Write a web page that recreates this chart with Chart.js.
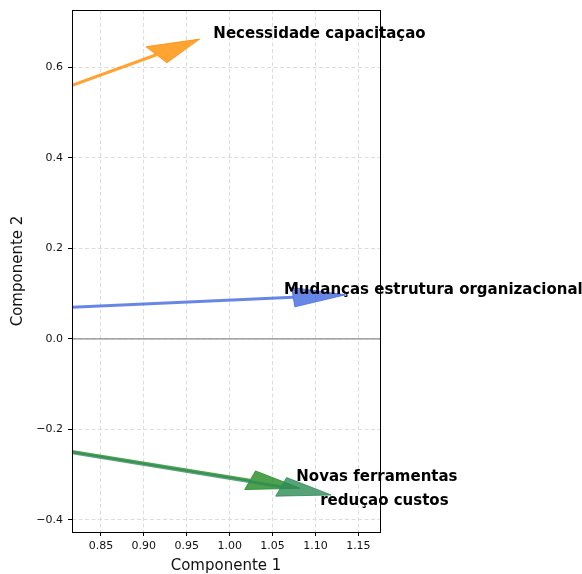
<!DOCTYPE html>
<html><head><meta charset="utf-8">
<script src="https://cdn.jsdelivr.net/npm/chart.js@4/dist/chart.umd.min.js"></script>
<style>html,body{margin:0;padding:0;background:#fff}#wrap{width:582px;height:574px}</style>
</head><body><div id="wrap"><canvas id="c" width="582" height="574"></canvas></div>
<script>
// Loadings (PC1, PC2) of each variable
const variables = ['Necessidade capacitaçao', 'Mudanças estrutura organizacional', 'Novas ferramentas', 'reduçao custos'];
const loadingPC1 = [0.9147, 1.0741, 1.0238, 1.0600];
const loadingPC2 = [0.6272, 0.0920, -0.3122, -0.3268];
// Label anchor positions (data units)
const labelPC1 = [1.1047, 1.2373, 1.1716, 1.1803];
const labelPC2 = [0.673, 0.108, -0.305, -0.358];
const arrowColors = ['rgba(255,140,0,0.8)', 'rgba(65,105,225,0.8)', 'rgba(34,139,34,0.8)', 'rgba(46,139,87,0.8)'];
// Axes
const xTicks = [0.85, 0.90, 0.95, 1.00, 1.05, 1.10, 1.15];
const yTicks = [-0.4, -0.2, 0.0, 0.2, 0.4, 0.6];
const xLimits = [0.8163, 1.1752];
const yLimits = [-0.4265, 0.726];
const xTitle = 'Componente 1';
const yTitle = 'Componente 2';
// Arrow head size (data units, like matplotlib)
const headWidth = 0.043, headLength = 0.061;

function arrowHead(lx, ly) {
  const len = Math.hypot(lx, ly);
  const dx = lx / len, dy = ly / len;
  const px = -dy, py = dx;
  const tip = {x: lx + dx * headLength, y: ly + dy * headLength};
  const c1 = {x: lx + px * headWidth / 2, y: ly + py * headWidth / 2};
  const c2 = {x: lx - px * headWidth / 2, y: ly - py * headWidth / 2};
  return [c1, tip, c2, c1];
}

const datasets = [];
datasets.push({
  data: [{x: xLimits[0], y: 0}, {x: xLimits[1], y: 0}],
  borderColor: 'rgba(128,128,128,0.65)', borderWidth: 1.6, showLine: true,
  pointRadius: 0, fill: false, order: 100
});
variables.forEach((v, i) => {
  datasets.push({
    data: [{x: 0, y: 0}, {x: loadingPC1[i], y: loadingPC2[i]}],
    borderColor: arrowColors[i], borderWidth: 3, showLine: true,
    pointRadius: 0, fill: false, order: 50 - i * 2
  });
  datasets.push({
    data: arrowHead(loadingPC1[i], loadingPC2[i]),
    borderColor: arrowColors[i], backgroundColor: arrowColors[i], borderWidth: 1,
    showLine: true, pointRadius: 0, fill: 'shape', tension: 0, order: 49 - i * 2
  });
});

const fmtY = v => (v < -1e-9 ? '\u2212' : '') + Math.abs(v).toFixed(1);

const annot = {
  id: 'annot',
  afterDraw(chart) {
    const {ctx, chartArea: a, scales: {x, y}} = chart;
    ctx.save();
    ctx.strokeStyle = '#000';
    ctx.lineWidth = 1;
    const l = Math.round(a.left) + 0.5, t = Math.round(a.top) + 0.5,
          r = Math.round(a.right) + 0.5, b = Math.round(a.bottom) + 0.5;
    ctx.strokeRect(l, t, r - l, b - t);
    ctx.fillStyle = '#000';
    ctx.font = 'bold 15px "DejaVu Sans"';
    ctx.textAlign = 'center';
    ctx.textBaseline = 'middle';
    variables.forEach((v, i) => {
      ctx.fillText(v, x.getPixelForValue(labelPC1[i]), y.getPixelForValue(labelPC2[i]));
    });
    ctx.restore();
  }
};

new Chart(document.getElementById('c'), {
  type: 'scatter',
  data: {datasets},
  options: {
    responsive: false, animation: false, devicePixelRatio: 1,
    events: [],
    layout: {padding: {top: 10, right: 202, left: 0, bottom: 0}},
    plugins: {legend: {display: false}, tooltip: {enabled: false}},
    scales: {
      x: {
        type: 'linear', min: xLimits[0], max: xLimits[1],
        afterBuildTicks: s => { s.ticks = xTicks.map(v => ({value: v})); },
        afterFit: s => { s.height = 42; s.paddingLeft = 0; s.paddingRight = 0; },
        ticks: {autoSkip: false, maxRotation: 0, padding: 4, color: '#111',
                font: {family: 'DejaVu Sans', size: 11}, callback: v => Number(v).toFixed(2)},
        grid: {color: '#dcdcdc', lineWidth: 1, tickColor: '#000', tickLength: 4, tickBorderDash: []},
        border: {display: false, dash: [4, 2.5]},
        title: {display: true, text: xTitle, color: '#111', padding: {top: 0, bottom: 0.5},
                font: {family: 'DejaVu Sans', size: 15, lineHeight: 1}}
      },
      y: {
        type: 'linear', min: yLimits[0], max: yLimits[1],
        afterBuildTicks: s => { s.ticks = yTicks.map(v => ({value: v})); },
        afterFit: s => { s.width = 72; s.paddingTop = 0; s.paddingBottom = 0; },
        ticks: {autoSkip: false, padding: 5, color: '#111',
                font: {family: 'DejaVu Sans', size: 11}, callback: v => fmtY(Number(v))},
        grid: {color: '#dcdcdc', lineWidth: 1, tickColor: '#000', tickLength: 4, tickBorderDash: []},
        border: {display: false, dash: [4, 2.5]},
        title: {display: true, text: yTitle, color: '#111', padding: {top: 10.5, bottom: 0},
                font: {family: 'DejaVu Sans', size: 15, lineHeight: 1}}
      }
    }
  },
  plugins: [annot]
});
</script>
</body></html>
